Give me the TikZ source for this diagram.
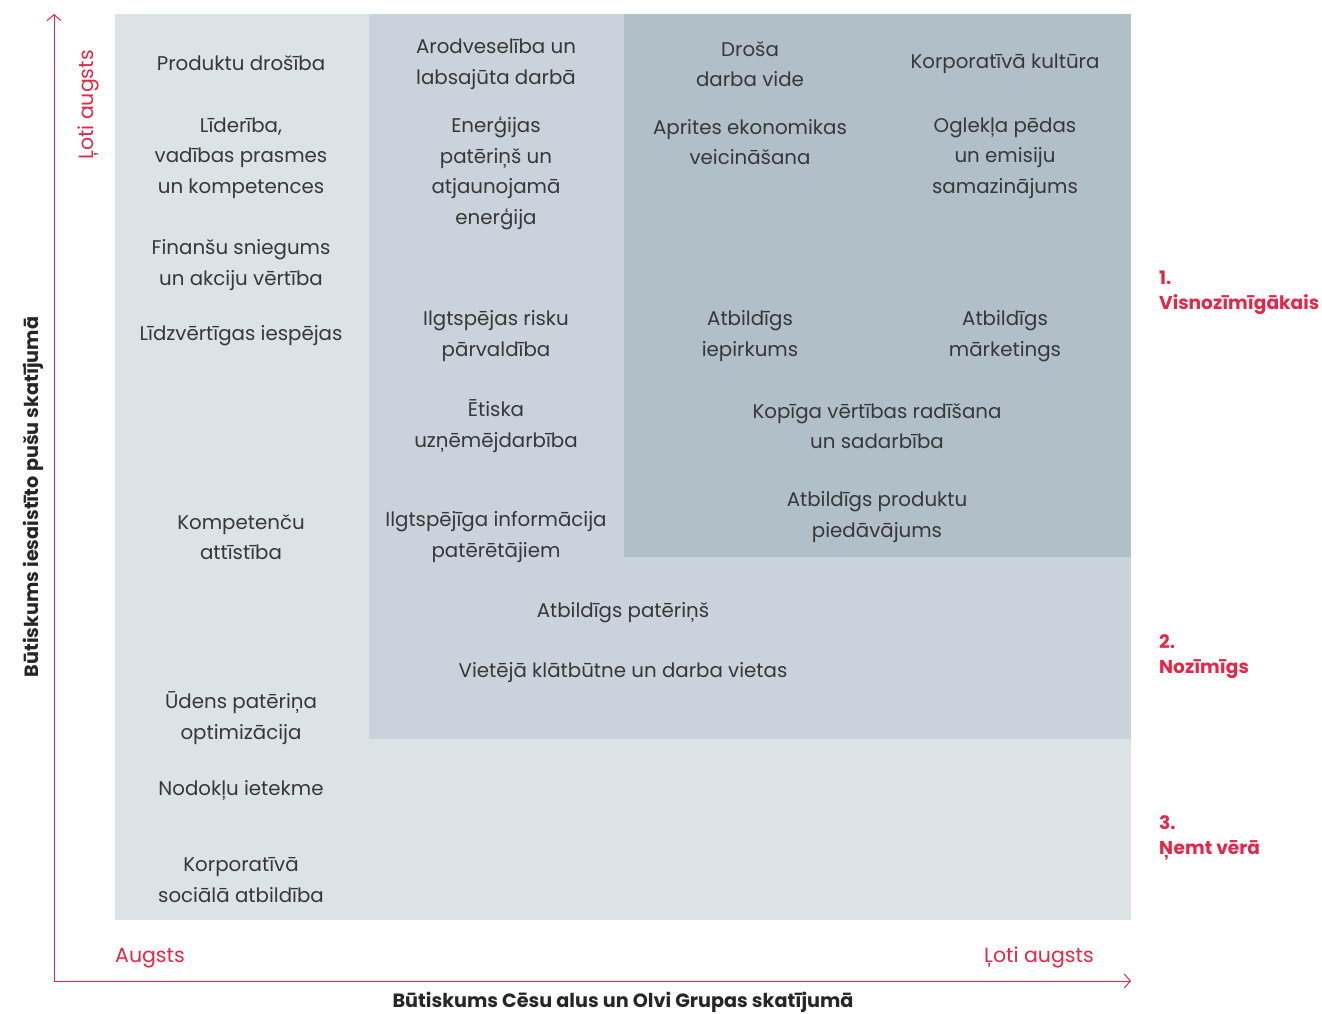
\documentclass[tikz,border=0pt]{standalone}
\usepackage{fontspec}
\setmainfont{Poppins}
\usetikzlibrary{arrows.meta}
\definecolor{axisred}{RGB}{228,38,72}
\definecolor{boxlight}{RGB}{220,227,231}
\definecolor{boxmid}{RGB}{202,211,219}
\definecolor{boxdark}{RGB}{177,191,201}
\definecolor{txtgrey}{RGB}{55,55,55}
\tikzset{
  topic/.style={align=center,text=txtgrey,inner sep=0pt,
    font=\fontsize{19.8}{30.5}\selectfont},
  axislabel/.style={text=axisred,inner sep=0pt,font=\fontsize{20.5}{24}\selectfont},
  levellabel/.style={text=axisred,inner sep=0pt,align=left,anchor=north west,
    font=\bfseries\fontsize{18.6}{25}\selectfont},
  axistitle/.style={text=black!85,inner sep=0pt,font=\bfseries\fontsize{19.2}{22}\selectfont},
}
\begin{document}
\begin{tikzpicture}[x=1pt,y=-1pt]
\useasboundingbox (0,0) rectangle (1322,1014);
% fields
\fill[boxlight] (115,14) rectangle (1131,920);
\fill[boxmid] (369,14) rectangle (1131,739);
\fill[boxdark] (624,14) rectangle (1131,557);
%
\coordinate (O) at (54,981);
\coordinate (ytop) at (54,14);
\coordinate (xend) at (1131,981);
\draw[axisred,line width=1pt,-{Straight Barb[length=6pt,width=14pt]}] (O) -- (ytop);
\draw[axisred,line width=1pt,-{Straight Barb[length=6pt,width=14pt]}] (O) -- (xend);
%
\node[axislabel,rotate=90] (yhigh) at (88,105) {Ļoti augsts};
\node[axislabel,anchor=west] (xlow) at (115,958) {Augsts};
\node[axislabel,anchor=east] (xhigh) at (1094,957) {Ļoti augsts};
\node[axistitle,rotate=90] (ytitle) at (33,497) {Būtiskums iesaistīto pušu skatījumā};
\node[axistitle] (xtitle) at (623,1002) {Būtiskums Cēsu alus un Olvi Grupas skatījumā};
%
\node[levellabel] (lvlone) at (1159,271) {1.\\Visnozīmīgākais};
\node[levellabel] (lvltwo) at (1159,634) {2.\\Nozīmīgs};
\node[levellabel] (lvlthree) at (1159,815) {3.\\Ņemt vērā};
%
\node[topic] (produkti) at (241,63) {Produktu drošība};
\node[topic] (lideriba) at (241,158) {Līderība,\\vadības prasmes\\un kompetences};
\node[topic] (finanses) at (241,265) {Finanšu sniegums\\un akciju vērtība};
\node[topic] (iespejas) at (241,336) {Līdzvērtīgas iespējas};
\node[topic] (kompet) at (241,537) {Kompetenču\\attīstība};
\node[topic] (udens) at (241,718) {Ūdens patēriņa\\optimizācija};
\node[topic] (nodokli) at (241,790) {Nodokļu ietekme};
\node[topic] (sociala) at (241,880) {Korporatīvā\\sociālā atbildība};
%
\node[topic] (arodvesel) at (496,64) {Arodveselība un\\labsajūta darbā};
\node[topic] (energija) at (496,173) {Enerģijas\\patēriņš un\\atjaunojamā\\enerģija};
\node[topic] (riski) at (496,336) {Ilgtspējas risku\\pārvaldība};
\node[topic] (etiska) at (496,426) {Ētiska\\uzņēmējdarbība};
\node[topic] (informacija) at (496,537) {Ilgtspējīga informācija\\patērētājiem};
%
\node[topic] (darbavide) at (750,64) {Droša\\darba vide};
\node[topic] (aprites) at (750,142) {Aprites ekonomikas\\veicināšana};
\node[topic] (iepirkums) at (750,336) {Atbildīgs\\iepirkums};
%
\node[topic] (kultura) at (1005,64) {Korporatīvā kultūra};
\node[topic] (oglekla) at (1005,158) {Oglekļa pēdas\\un emisiju\\samazinājums};
\node[topic] (marketings) at (1005,336) {Atbildīgs\\mārketings};
%
\node[topic] (kopiga) at (877,426) {Kopīga vērtības radīšana\\un sadarbība};
\node[topic] (piedavajums) at (877,517) {Atbildīgs produktu\\piedāvājums};
%
\node[topic] (paterins) at (623,613) {Atbildīgs patēriņš};
\node[topic] (vietas) at (623,673) {Vietējā klātbūtne un darba vietas};
\end{tikzpicture}
\end{document}
